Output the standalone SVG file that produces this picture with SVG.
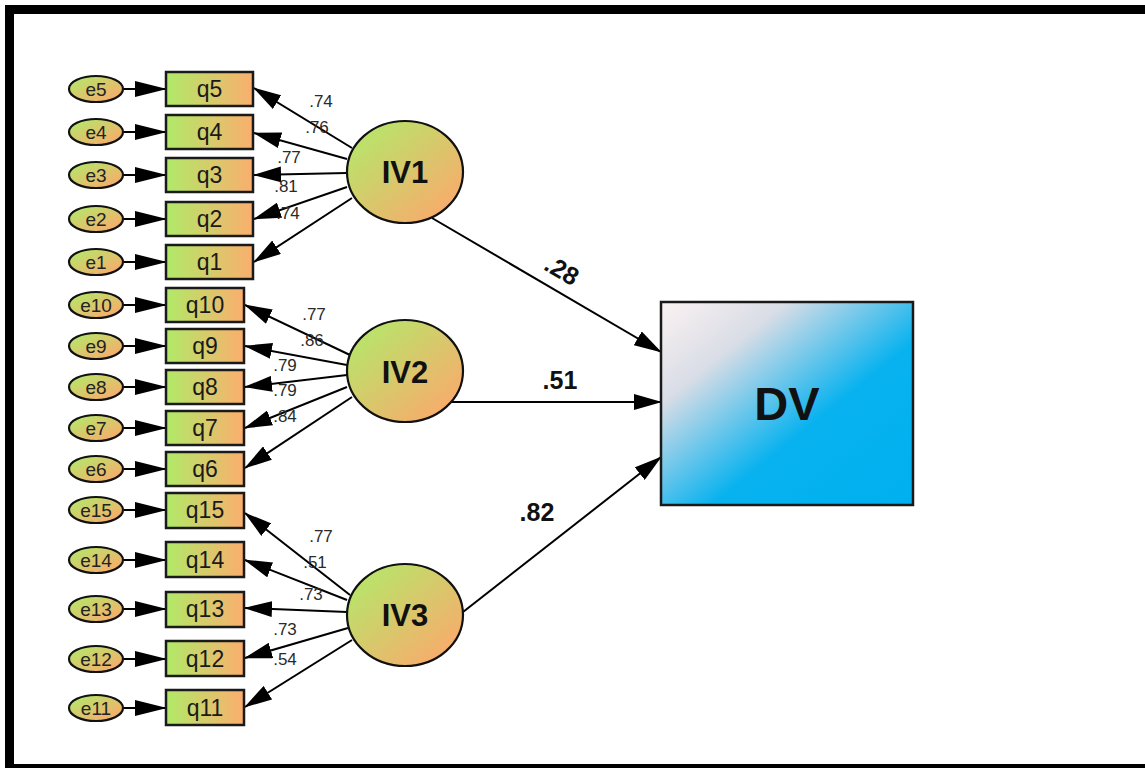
<svg xmlns="http://www.w3.org/2000/svg" width="1145" height="768" viewBox="0 0 1145 768">
<defs>
<linearGradient id="gq" x1="0" y1="0" x2="1" y2="0">
<stop offset="0" stop-color="#b0ea68"/>
<stop offset="1" stop-color="#fbae6e"/>
</linearGradient>
<linearGradient id="gc" x1="0" y1="0" x2="1" y2="1">
<stop offset="0.1" stop-color="#b6e66a"/>
<stop offset="0.9" stop-color="#faaa6c"/>
</linearGradient>
<linearGradient id="gdv" x1="0" y1="0" x2="1" y2="1">
<stop offset="0" stop-color="#fbf2f2"/>
<stop offset="0.25" stop-color="#d9dde6"/>
<stop offset="0.6" stop-color="#08b2ef"/>
<stop offset="1" stop-color="#00b0f0"/>
</linearGradient>
<marker id="ah" markerUnits="userSpaceOnUse" markerWidth="28" markerHeight="16" refX="27" refY="8" orient="auto" viewBox="0 0 28 16">
<path d="M0,0 L28,8 L0,16 z" fill="#000"/>
</marker>
<marker id="ae" markerUnits="userSpaceOnUse" markerWidth="32" markerHeight="16" refX="31" refY="8" orient="auto" viewBox="0 0 32 16">
<path d="M0,0 L32,8 L0,16 z" fill="#000"/>
</marker>
</defs>
<style>
.e{fill:url(#gc);stroke:#111;stroke-width:2.2}
.q{fill:url(#gq);stroke:#1a1a1a;stroke-width:2.5}
.c{fill:url(#gc);stroke:#111;stroke-width:2.2}
.dv{fill:url(#gdv);stroke:#1a1a1a;stroke-width:2.5}
.et{font-family:"Liberation Sans",Arial,sans-serif;font-size:19px;fill:#222;text-anchor:middle}
.qt{font-family:"Liberation Sans",Arial,sans-serif;font-size:23px;fill:#1a1a1a;text-anchor:middle}
.ct{font-family:"Liberation Sans",Arial,sans-serif;font-size:31px;font-weight:bold;fill:#111;text-anchor:middle}
.dt{font-family:"Liberation Sans",Arial,sans-serif;font-size:47px;font-weight:bold;fill:#111;text-anchor:middle}
.lt{font-family:"Liberation Sans",Arial,sans-serif;font-size:17px;fill:#2a2a2a;text-anchor:middle}
.bt{font-family:"Liberation Sans",Arial,sans-serif;font-size:25px;font-weight:bold;fill:#111;text-anchor:middle}
.ln{stroke:#000;stroke-width:2;fill:none;marker-end:url(#ah)}
.le{stroke:#000;stroke-width:2;fill:none;marker-end:url(#ae)}
</style>
<rect x="0" y="0" width="1145" height="768" fill="#fff"/>
<g id="frame" fill="#000">
<rect x="5" y="5" width="1140" height="9"/>
<rect x="5" y="5" width="9" height="763"/>
<rect x="5" y="764" width="1140" height="4"/>
</g>
<g id="connectors">
<line class="le" x1="124" y1="89" x2="166" y2="89"/>
<line class="le" x1="124" y1="132" x2="166" y2="132"/>
<line class="le" x1="124" y1="175" x2="166" y2="175"/>
<line class="le" x1="124" y1="219" x2="166" y2="219"/>
<line class="le" x1="124" y1="262" x2="166" y2="262"/>
<line class="le" x1="124" y1="305" x2="166" y2="305"/>
<line class="le" x1="124" y1="346" x2="166" y2="346"/>
<line class="le" x1="124" y1="387" x2="166" y2="387"/>
<line class="le" x1="124" y1="428" x2="166" y2="428"/>
<line class="le" x1="124" y1="469" x2="166" y2="469"/>
<line class="le" x1="124" y1="510" x2="166" y2="510"/>
<line class="le" x1="124" y1="560" x2="166" y2="560"/>
<line class="le" x1="124" y1="609" x2="166" y2="609"/>
<line class="le" x1="124" y1="659" x2="166" y2="659"/>
<line class="le" x1="124" y1="708" x2="166" y2="708"/>
<line class="ln" x1="352" y1="148" x2="254" y2="88"/>
<line class="ln" x1="347" y1="159" x2="254" y2="133"/>
<line class="ln" x1="347" y1="173" x2="254" y2="175"/>
<line class="ln" x1="347" y1="187" x2="254" y2="219"/>
<line class="ln" x1="352" y1="198" x2="254" y2="262"/>
<line class="ln" x1="350" y1="355" x2="245" y2="305"/>
<line class="ln" x1="347" y1="365" x2="245" y2="346"/>
<line class="ln" x1="347" y1="375" x2="245" y2="387"/>
<line class="ln" x1="347" y1="387" x2="245" y2="428"/>
<line class="ln" x1="352" y1="397" x2="245" y2="468"/>
<line class="ln" x1="350" y1="595" x2="245" y2="513"/>
<line class="ln" x1="347" y1="600" x2="245" y2="560"/>
<line class="ln" x1="347" y1="612" x2="245" y2="608"/>
<line class="ln" x1="348" y1="628" x2="245" y2="658"/>
<line class="ln" x1="352" y1="640" x2="245" y2="707"/>
<line class="ln" x1="432" y1="218" x2="661" y2="352"/>
<line class="ln" x1="451" y1="402" x2="661" y2="402"/>
<line class="ln" x1="463" y1="612" x2="661" y2="457"/>
<text class="lt" x="321" y="107">.74</text>
<text class="lt" x="317" y="133">.76</text>
<text class="lt" x="289" y="163">.77</text>
<text class="lt" x="286" y="192">.81</text>
<text class="lt" x="288" y="219">.74</text>
<text class="lt" x="314" y="320">.77</text>
<text class="lt" x="312" y="346">.86</text>
<text class="lt" x="285" y="371">.79</text>
<text class="lt" x="285" y="396">.79</text>
<text class="lt" x="285" y="422">.84</text>
<text class="lt" x="321" y="542">.77</text>
<text class="lt" x="315" y="568">.51</text>
<text class="lt" x="311" y="600">.73</text>
<text class="lt" x="285" y="635">.73</text>
<text class="lt" x="285" y="665">.54</text>
<text class="bt" transform="translate(562,270) rotate(30)" x="0" y="9">.28</text>
<text class="bt" x="560" y="389">.51</text>
<text class="bt" x="537" y="521">.82</text>
</g>
<g id="e5"><ellipse class="e" cx="96" cy="89" rx="27" ry="13"/><text class="et" x="96" y="96">e5</text></g>
<g id="e4"><ellipse class="e" cx="96" cy="132" rx="27" ry="13"/><text class="et" x="96" y="139">e4</text></g>
<g id="e3"><ellipse class="e" cx="96" cy="175" rx="27" ry="13"/><text class="et" x="96" y="182">e3</text></g>
<g id="e2"><ellipse class="e" cx="96" cy="219" rx="27" ry="13"/><text class="et" x="96" y="226">e2</text></g>
<g id="e1"><ellipse class="e" cx="96" cy="262" rx="27" ry="13"/><text class="et" x="96" y="269">e1</text></g>
<g id="e10"><ellipse class="e" cx="96" cy="305" rx="27" ry="13"/><text class="et" x="96" y="312">e10</text></g>
<g id="e9"><ellipse class="e" cx="96" cy="346" rx="27" ry="13"/><text class="et" x="96" y="353">e9</text></g>
<g id="e8"><ellipse class="e" cx="96" cy="387" rx="27" ry="13"/><text class="et" x="96" y="394">e8</text></g>
<g id="e7"><ellipse class="e" cx="96" cy="428" rx="27" ry="13"/><text class="et" x="96" y="435">e7</text></g>
<g id="e6"><ellipse class="e" cx="96" cy="469" rx="27" ry="13"/><text class="et" x="96" y="476">e6</text></g>
<g id="e15"><ellipse class="e" cx="96" cy="510" rx="27" ry="13"/><text class="et" x="96" y="517">e15</text></g>
<g id="e14"><ellipse class="e" cx="96" cy="560" rx="27" ry="13"/><text class="et" x="96" y="567">e14</text></g>
<g id="e13"><ellipse class="e" cx="96" cy="609" rx="27" ry="13"/><text class="et" x="96" y="616">e13</text></g>
<g id="e12"><ellipse class="e" cx="96" cy="659" rx="27" ry="13"/><text class="et" x="96" y="666">e12</text></g>
<g id="e11"><ellipse class="e" cx="96" cy="708" rx="27" ry="13"/><text class="et" x="96" y="715">e11</text></g>
<g id="q5"><rect class="q" x="166" y="72" width="87" height="34"/><text class="qt" x="209.5" y="97">q5</text></g>
<g id="q4"><rect class="q" x="166" y="115" width="87" height="34"/><text class="qt" x="209.5" y="140">q4</text></g>
<g id="q3"><rect class="q" x="166" y="158" width="87" height="34"/><text class="qt" x="209.5" y="183">q3</text></g>
<g id="q2"><rect class="q" x="166" y="202" width="87" height="34"/><text class="qt" x="209.5" y="227">q2</text></g>
<g id="q1"><rect class="q" x="166" y="245" width="87" height="34"/><text class="qt" x="209.5" y="270">q1</text></g>
<g id="q10"><rect class="q" x="166" y="288" width="78" height="34"/><text class="qt" x="205" y="313">q10</text></g>
<g id="q9"><rect class="q" x="166" y="329" width="78" height="34"/><text class="qt" x="205" y="354">q9</text></g>
<g id="q8"><rect class="q" x="166" y="370" width="78" height="34"/><text class="qt" x="205" y="395">q8</text></g>
<g id="q7"><rect class="q" x="166" y="411" width="78" height="34"/><text class="qt" x="205" y="436">q7</text></g>
<g id="q6"><rect class="q" x="166" y="452" width="78" height="34"/><text class="qt" x="205" y="477">q6</text></g>
<g id="q15"><rect class="q" x="166" y="493" width="78" height="35"/><text class="qt" x="205" y="518">q15</text></g>
<g id="q14"><rect class="q" x="166" y="542" width="78" height="35"/><text class="qt" x="205" y="568">q14</text></g>
<g id="q13"><rect class="q" x="166" y="592" width="78" height="35"/><text class="qt" x="205" y="617">q13</text></g>
<g id="q12"><rect class="q" x="166" y="641" width="78" height="35"/><text class="qt" x="205" y="667">q12</text></g>
<g id="q11"><rect class="q" x="166" y="690" width="78" height="35"/><text class="qt" x="205" y="716">q11</text></g>
<g id="IV1"><ellipse class="c" cx="405" cy="172" rx="58" ry="51"/><text class="ct" x="405" y="183">IV1</text></g>
<g id="IV2"><ellipse class="c" cx="405" cy="371" rx="58" ry="51"/><text class="ct" x="405" y="383">IV2</text></g>
<g id="IV3"><ellipse class="c" cx="405" cy="615" rx="58" ry="51"/><text class="ct" x="405" y="626">IV3</text></g>
<g id="DV"><rect class="dv" x="661" y="302" width="252" height="203"/><text class="dt" x="787" y="420">DV</text></g>
</svg>
